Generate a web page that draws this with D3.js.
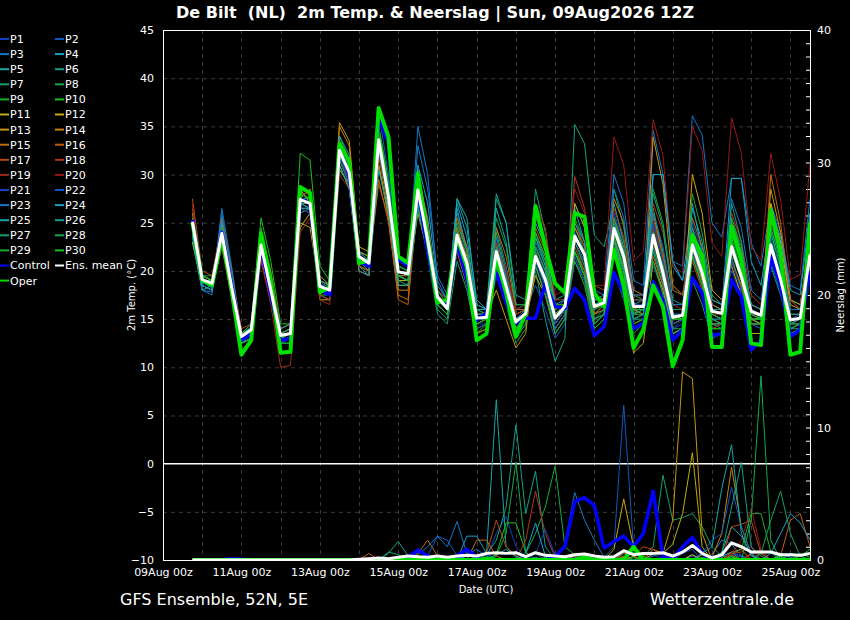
<!DOCTYPE html>
<html>
<head>
<meta charset="utf-8">
<script src="https://cdn.jsdelivr.net/npm/d3@7"></script>
<style>
  body { margin: 0; background: #000; }
  text { font-family: "DejaVu Sans", sans-serif; fill: #fff; }
</style>
</head>
<body>
<script>
// ---- data: 2m temperature (°C), 6-hourly from 09Aug 18z to 25Aug 12z ----
var tEnsMean = [25.1,19.1,18.7,23.9,18.3,13.2,13.9,22.7, 18.0,13.3,13.5,27.4,27.0,18.4,18.0,32.5, 30.2,21.5,20.8,33.6,27.7,19.9,19.7,28.4, 23.2,17.3,16.1,23.7,20.8,15.1,15.2,22.0, 18.4,14.7,15.6,21.5,19.1,15.1,16.3,23.6, 21.7,16.3,16.7,24.4,21.5,16.3,16.3,23.7, 19.8,15.2,15.4,22.7,19.8,15.8,15.6,22.5, 19.4,15.8,15.4,22.7,19.1,14.9,15.1,21.7];
var tControl = [25.3,19.0,18.5,24.0,18.5,12.8,13.5,22.5, 17.5,12.8,13.0,27.5,27.0,18.0,17.5,33.0, 30.0,21.0,20.5,35.8,33.3,21.2,20.5,28.5, 22.0,17.0,16.5,22.9,19.1,14.9,15.6,19.8, 16.7,14.6,15.1,15.1,18.7,16.3,16.1,18.2, 17.0,13.3,14.2,19.8,17.7,14.0,14.6,18.9, 17.0,12.8,13.9,19.3,17.7,13.3,13.5,19.1, 17.3,11.8,12.8,21.5,18.4,13.2,13.9,20.0];
var tOper = [25.0,19.0,18.5,23.5,18.0,11.3,12.8,23.9, 19.0,11.5,11.6,28.7,28.1,17.8,18.3,33.2, 31.3,20.8,21.1,36.9,33.9,21.5,20.8,30.1, 23.2,16.7,17.0,23.5,20.4,12.8,13.5,21.5, 17.7,13.2,15.6,26.7,22.5,18.7,17.7,26.0, 25.6,17.7,16.3,22.2,18.4,12.0,13.9,18.5, 16.3,10.1,12.8,23.7,21.5,12.1,12.1,24.6, 21.1,12.5,12.3,26.3,21.8,11.3,11.6,25.0];

var tP1 = [24.5,18.8,18.2,23.5,18.0,12.8,13.5,22.0, 17.5,12.8,13.0,27.0,26.5,18.0,17.5,32.0, 29.5,21.0,20.5,33.0,27.0,19.5,19.0,27.5, 22.5,16.5,15.5,23.0,20.0,14.5,14.5,21.0, 17.5,13.5,14.5,20.5,18.0,14.0,15.5,22.0, 20.0,15.0,15.5,22.5,20.0,15.0,15.5,22.0, 18.5,14.0,14.5,21.0,18.5,14.5,14.5,21.0, 18.0,14.5,14.0,21.0,18.0,13.5,14.0,20.0];
var tP2 = [25.5,19.5,19.0,24.5,19.0,13.5,14.0,23.0, 18.5,13.5,14.0,28.0,27.5,19.0,18.5,33.0, 31.0,22.0,21.0,34.5,28.5,20.5,20.0,29.0, 24.0,18.0,16.5,25.0,21.5,16.0,16.0,23.5, 19.5,15.5,16.0,18.5,16.0,13.0,14.5,21.0, 19.0,15.5,16.0,26.0,23.0,17.0,17.0,20.5, 18.0,14.0,15.0,24.5,21.0,16.5,16.0,20.0, 17.5,14.5,14.0,24.0,20.0,15.0,15.5,19.5];
var tP3 = [23.5,18.0,17.8,26.5,20.5,13.5,14.2,23.5, 18.5,13.0,13.5,27.0,26.5,19.0,18.0,33.5, 30.5,21.5,21.0,34.0,28.0,20.0,19.5,35.0, 30.0,19.0,17.0,26.0,22.5,16.5,16.0,24.5, 20.5,15.5,16.0,23.0,20.5,16.0,17.0,27.0, 24.5,18.0,17.5,30.0,27.0,19.0,18.5,34.6, 30.0,21.0,20.5,36.1,34.1,25.0,23.5,29.6, 29.6,22.9,20.5,27.0,24.0,18.5,18.0,27.5];
var tP4 = [24.0,18.5,18.0,25.0,19.5,12.5,13.0,21.5, 17.0,12.5,12.5,26.0,26.5,17.5,17.0,31.5, 29.0,20.5,19.5,33.5,26.5,18.5,18.5,29.5, 25.5,17.0,16.0,26.5,22.0,15.0,15.5,23.0, 18.0,14.0,15.5,24.0,21.0,16.0,16.5,26.5, 23.0,16.0,16.5,25.0,22.0,16.5,17.0,30.0, 30.0,20.5,19.0,27.0,22.0,16.5,16.0,29.6, 29.6,21.0,18.5,25.5,22.0,16.0,16.0,24.0];
var tP5 = [23.0,18.0,18.5,24.5,18.5,13.0,13.5,22.5, 18.0,13.5,14.0,27.5,27.5,18.5,17.5,32.0, 30.0,21.0,20.0,32.5,27.5,19.5,19.0,27.0, 23.0,17.5,16.5,27.5,25.5,16.5,16.0,26.5, 23.0,16.0,16.5,21.0,18.5,14.5,16.0,24.5, 22.0,17.0,17.5,23.0,20.0,15.5,16.5,25.0, 21.0,15.5,15.5,21.5,19.5,16.0,16.0,25.0, 22.0,16.5,16.0,26.0,23.0,17.0,16.5,23.0];
var tP6 = [24.5,19.0,18.5,23.0,18.0,13.0,14.0,23.0, 18.0,13.0,13.5,28.5,28.0,19.5,18.5,33.5, 31.5,22.0,21.5,35.0,29.0,20.5,20.0,28.0, 23.0,17.0,16.0,24.0,21.0,14.5,15.0,23.0, 19.0,14.0,15.0,20.0,15.0,10.6,13.0,35.2, 33.2,23.7,22.5,27.0,23.0,17.0,17.0,24.0, 19.5,14.5,15.0,22.0,18.5,14.5,14.0,21.5, 18.0,14.5,14.5,20.5,17.5,13.5,14.0,20.5];
var tP7 = [25.0,19.5,19.5,24.0,18.5,13.5,14.0,22.5, 18.5,13.5,14.0,27.0,27.0,18.0,18.0,32.5, 30.0,21.5,21.0,33.0,27.5,19.0,19.0,27.5, 22.0,16.0,15.0,23.0,19.5,13.5,14.0,27.5, 25.0,16.5,16.5,28.5,24.0,17.0,17.5,22.0, 19.5,14.0,15.0,20.0,17.0,13.5,14.5,26.5, 22.0,16.0,16.0,19.0,16.5,13.0,13.5,23.0, 19.5,15.5,15.0,21.0,18.0,14.0,14.0,22.0];
var tP8 = [25.5,19.0,18.8,24.0,18.0,13.0,13.8,23.5, 19.0,13.5,13.5,28.0,27.5,18.5,18.0,33.0, 30.5,21.5,20.5,34.0,28.0,20.0,19.5,29.0, 24.0,17.5,16.0,23.5,20.0,14.5,15.0,20.0, 16.5,12.5,14.0,23.5,21.0,15.5,16.5,22.5, 20.0,15.5,16.0,28.5,24.5,17.5,17.0,22.0, 18.5,13.5,14.0,28.0,24.0,17.5,16.5,24.0, 20.5,15.0,14.5,26.5,22.0,15.5,15.5,24.5];
var tP9 = [24.5,18.8,18.5,23.5,18.5,12.5,13.5,24.5, 19.5,13.0,13.0,26.5,26.5,17.5,17.5,32.0, 29.5,20.5,20.0,33.0,27.0,19.5,19.0,28.0, 23.0,17.0,16.5,25.5,22.0,16.0,15.5,21.5, 18.0,14.5,15.5,21.0,18.5,14.5,16.0,25.5, 23.0,17.0,17.0,23.5,20.5,15.0,15.5,28.5, 25.0,18.0,17.5,22.5,19.0,14.0,14.0,25.5, 22.5,16.0,15.5,23.5,20.0,14.5,14.5,26.0];
var tP10 = [25.0,19.5,19.0,24.5,19.0,13.5,14.5,25.5, 21.0,14.5,14.5,32.2,31.5,20.5,19.0,34.0, 31.5,22.0,21.5,35.0,29.5,20.5,20.0,27.0, 22.5,16.5,15.5,22.5,19.0,13.5,14.5,24.0, 20.0,15.0,15.5,26.0,22.5,16.5,16.5,21.0, 18.5,14.0,15.0,24.0,21.0,15.5,15.5,24.5, 20.0,15.0,15.0,23.5,20.5,16.0,15.5,22.5, 19.0,15.0,15.0,24.0,20.5,14.5,15.0,21.0];
var tP11 = [23.0,18.5,18.0,22.5,17.5,12.5,13.0,21.5, 17.0,13.0,13.5,25.0,24.5,18.0,17.5,30.5, 29.0,20.5,20.0,31.0,26.0,19.0,19.0,26.0, 22.0,17.0,16.5,24.5,21.0,15.5,15.5,22.0, 18.0,14.0,15.0,19.5,17.5,14.0,15.5,23.0, 21.0,15.5,16.5,23.5,20.0,11.5,12.5,21.0, 18.0,13.5,14.0,24.0,20.5,15.5,15.0,21.0, 18.5,15.0,14.5,22.0,19.0,14.0,14.5,21.5];
var tP12 = [24.0,19.0,18.5,24.0,18.5,13.0,13.5,22.0, 17.5,13.0,13.5,24.5,26.0,17.0,17.0,31.0, 28.5,20.0,19.5,32.0,26.5,18.5,18.5,30.5, 25.0,16.5,15.5,22.5,19.0,14.0,14.5,22.5, 19.0,15.0,15.5,22.0,19.0,14.5,16.0,27.0, 24.5,17.5,17.0,25.5,22.0,16.0,15.5,26.0, 21.5,15.5,15.0,30.0,26.0,18.0,17.0,20.5, 17.5,13.5,13.5,27.0,23.0,16.5,16.0,20.0];
var tP13 = [26.0,19.5,19.0,23.0,18.0,13.5,14.0,23.0, 18.5,13.5,14.0,28.5,27.0,19.0,18.5,35.4, 33.5,22.5,22.0,33.0,27.0,19.5,19.5,28.5, 23.5,17.5,16.0,24.0,21.5,15.5,15.5,18.0, 15.0,12.0,13.5,22.5,20.0,15.5,16.5,24.5, 22.5,16.5,17.0,22.0,19.0,14.5,15.0,33.9, 29.0,18.5,17.5,22.0,19.0,15.0,14.5,24.5, 21.0,16.0,15.5,28.5,24.0,17.0,16.5,23.0];
var tP14 = [25.0,19.0,18.5,25.5,20.0,13.5,14.0,22.5, 19.5,14.0,14.5,27.5,28.5,18.5,18.0,35.0, 33.0,22.0,21.5,31.0,25.5,18.0,18.0,26.5, 22.0,16.5,15.5,22.0,18.5,13.5,14.0,21.5, 18.5,14.5,15.0,20.5,17.5,13.5,15.0,21.5, 19.0,14.5,15.5,27.5,25.0,18.0,17.5,23.0, 19.5,15.0,15.5,21.5,18.5,14.5,14.5,23.0, 20.0,15.5,15.0,22.0,19.5,15.0,15.0,23.0];
var tP15 = [24.5,19.0,18.5,24.0,18.5,13.5,14.0,22.0, 18.0,13.5,13.5,27.0,27.0,19.5,18.5,33.0, 31.0,21.5,21.0,29.5,25.0,17.5,17.0,29.0, 25.0,18.0,17.0,24.5,21.0,15.0,15.0,24.5, 21.5,16.0,16.0,21.5,19.5,15.5,16.5,23.5, 21.5,16.5,16.5,23.0,20.5,16.0,16.5,21.5, 18.5,14.5,15.0,25.5,22.5,16.5,16.0,21.0, 18.5,14.5,14.5,30.0,25.0,17.0,16.0,22.0];
var tP16 = [25.5,19.5,19.0,24.5,19.0,13.0,13.5,22.5, 18.0,13.0,13.0,27.5,27.0,18.5,18.5,32.5, 30.5,21.0,20.5,29.0,25.5,17.0,16.5,27.5, 23.5,17.5,16.5,25.5,22.5,16.0,16.0,20.5, 17.5,14.5,15.5,24.5,22.0,16.0,16.5,22.0, 20.0,15.5,16.0,24.5,22.0,16.5,16.5,22.5, 19.0,14.5,15.0,23.0,20.0,15.5,15.0,22.0, 19.0,15.0,15.0,21.5,18.5,14.5,15.0,24.0];
var tP17 = [27.5,20.0,19.5,25.0,19.5,14.0,14.5,24.0, 20.0,14.0,14.5,28.0,28.0,19.0,18.5,33.5, 31.0,21.5,21.0,32.5,28.0,20.0,19.5,28.0, 23.5,17.0,16.0,23.0,20.5,15.0,15.0,22.5, 19.5,15.5,16.0,22.0,19.5,15.0,16.0,25.0, 22.5,16.5,17.0,26.5,23.5,17.5,17.5,25.5, 21.5,16.5,16.5,21.0,18.0,14.0,14.5,25.0, 22.0,16.5,16.0,21.5,18.5,14.5,14.5,21.0];
var tP18 = [26.5,19.5,19.0,23.5,18.5,13.5,14.0,21.5, 17.5,12.5,13.0,26.5,26.0,17.5,17.0,31.5, 29.5,20.5,20.0,32.5,27.5,20.0,19.5,27.5, 23.0,17.5,16.5,22.0,19.0,14.5,15.0,23.0, 20.0,15.5,16.0,27.0,24.5,17.0,17.0,29.8, 26.5,18.5,18.0,24.0,21.5,16.5,16.5,27.0, 24.0,18.0,17.5,24.5,21.5,17.0,16.5,26.0, 23.0,17.5,16.5,25.0,21.5,16.0,16.0,25.0];
var tP19 = [27.0,19.0,18.5,22.5,17.0,12.0,12.5,21.0, 16.5,10.0,10.2,24.0,25.5,17.0,16.5,30.0, 28.5,20.0,19.5,32.0,27.0,19.5,19.0,28.5, 24.0,17.5,16.0,23.0,20.5,15.5,15.5,21.5, 18.5,14.5,15.5,24.0,21.5,16.0,16.5,22.5, 20.5,16.0,16.5,25.5,22.5,17.0,17.0,24.5, 21.0,16.5,16.0,23.0,20.0,15.5,15.5,22.0, 19.5,15.5,15.5,22.5,19.5,15.5,15.5,22.5];
var tP20 = [25.0,19.0,18.5,24.0,18.5,13.0,13.5,22.5, 18.0,13.0,13.5,27.0,27.0,18.0,17.5,32.0, 30.0,21.0,20.5,33.5,28.0,20.0,19.5,28.0, 24.0,18.0,17.0,24.0,21.0,15.5,15.5,23.0, 20.0,16.0,16.5,25.5,23.0,17.5,18.0,28.5, 26.0,18.5,18.5,33.9,31.0,21.0,22.0,35.7, 32.0,20.5,19.8,35.0,32.5,22.9,21.5,35.9, 32.2,22.5,21.1,32.2,27.4,19.1,19.6,31.2];
var tP21 = [24.0,18.5,18.0,23.5,18.0,12.5,13.0,22.0, 17.5,12.5,13.0,26.5,26.0,18.0,17.5,32.0, 29.5,21.0,20.5,34.5,28.5,20.0,19.5,29.5, 24.5,17.0,16.0,22.5,19.5,14.0,14.5,20.5, 17.0,13.5,15.0,22.5,19.5,14.5,16.0,21.5, 19.0,14.5,15.5,26.0,22.5,16.5,16.5,25.0, 21.0,15.5,15.5,22.0,18.5,13.0,13.5,21.0, 18.0,12.5,12.5,23.5,20.0,14.5,14.5,19.0];
var tP22 = [25.0,19.0,18.8,24.5,18.5,13.5,14.0,23.0, 18.0,13.5,14.0,27.5,27.0,18.5,18.5,32.5, 30.0,21.5,21.0,36.5,30.0,21.0,20.5,29.0, 23.5,17.0,16.0,23.5,20.5,15.0,15.0,22.0, 18.5,14.5,15.5,21.0,18.5,14.0,15.5,23.0, 21.0,16.0,16.5,24.0,21.0,15.5,16.0,22.5, 19.0,14.5,15.0,25.0,22.0,17.0,16.5,24.0, 21.0,16.0,15.5,21.0,18.0,13.5,14.0,22.5];
var tP23 = [23.5,18.0,17.5,26.0,20.0,13.0,13.5,22.5, 17.5,13.0,13.5,27.5,27.0,18.5,18.0,31.5, 29.0,21.0,20.5,32.5,27.0,19.5,19.0,33.0, 28.5,19.5,17.5,24.0,20.5,15.5,15.5,23.5, 19.5,15.0,16.0,22.5,20.0,15.5,16.5,24.0, 21.5,16.5,17.0,28.5,25.5,17.5,17.5,26.0, 22.5,16.5,16.5,24.0,21.0,16.0,15.5,27.5, 24.5,18.0,17.0,24.5,21.0,16.0,16.0,22.0];
var tP24 = [24.0,18.5,18.0,25.0,19.0,12.5,13.5,23.0, 18.0,13.5,14.0,27.0,26.5,18.0,17.5,34.0, 32.0,22.0,21.0,33.0,27.5,20.0,19.5,31.0, 27.0,18.5,17.0,27.0,23.5,16.0,16.0,22.0, 19.0,14.5,15.0,25.0,22.5,16.5,17.0,25.0, 23.0,17.0,17.0,22.5,20.0,15.5,16.0,30.0, 30.0,21.0,19.0,23.5,20.0,15.0,15.0,24.0, 21.0,16.5,16.0,26.5,23.5,18.0,17.5,26.0];
var tP25 = [24.5,18.5,18.0,23.0,17.5,12.5,13.0,22.0, 17.0,13.0,13.5,26.5,26.5,18.0,17.5,31.0, 28.5,20.0,19.5,30.5,26.0,18.5,18.5,26.5, 22.5,16.5,15.5,27.5,24.5,17.0,16.0,28.0, 25.0,17.5,17.0,23.5,20.5,15.0,16.0,22.0, 19.5,15.0,15.5,25.0,22.0,16.0,16.0,23.5, 20.5,15.5,15.0,26.5,23.0,17.0,16.5,23.0, 20.0,15.0,15.0,22.5,19.5,14.5,15.0,24.0];
var tP26 = [24.0,19.0,18.5,24.0,18.5,13.0,13.5,23.5, 19.0,14.0,14.5,28.5,28.0,19.0,18.5,33.0, 30.5,21.5,21.0,33.5,27.5,19.5,19.0,27.0, 22.5,16.5,15.5,24.0,21.0,15.5,15.5,22.0, 19.0,15.0,15.5,21.5,19.0,15.0,16.5,23.5, 21.5,16.5,17.0,23.0,20.0,15.0,15.5,28.0, 24.5,17.0,16.5,23.5,20.0,14.5,14.5,27.0, 23.0,16.0,15.0,24.5,21.0,15.5,15.5,23.5];
var tP27 = [25.5,19.5,19.0,24.0,18.5,13.5,14.0,22.0, 17.5,13.0,13.0,27.5,27.5,19.0,18.5,32.5, 30.0,21.0,20.5,33.0,27.0,19.0,18.5,26.5, 21.5,15.5,14.5,21.0,18.0,13.0,13.5,22.5, 19.0,14.0,15.0,22.0,19.0,13.5,15.0,23.0, 20.5,15.0,15.5,24.0,21.0,15.0,15.0,22.5, 19.0,14.0,14.0,24.5,21.0,15.5,15.0,25.5, 22.0,15.5,15.0,23.0,19.5,14.0,14.5,25.0];
var tP28 = [25.0,19.0,18.5,24.5,19.0,13.0,13.5,22.0, 17.5,13.0,13.5,27.0,27.0,18.0,17.5,32.0, 30.0,21.5,21.0,34.0,28.5,20.5,20.0,29.5, 24.5,18.0,16.5,25.0,22.0,16.0,15.5,25.5, 22.5,16.5,16.5,20.5,17.5,13.5,15.0,22.0, 19.5,15.0,16.0,23.5,20.5,15.5,16.0,21.0, 17.5,13.5,14.0,22.5,19.5,15.0,14.5,22.0, 19.0,14.5,14.5,22.5,19.5,14.0,14.5,20.5];
var tP29 = [25.0,19.0,19.0,24.0,18.5,13.5,14.0,23.0, 18.5,13.5,14.0,27.5,27.0,18.0,18.0,32.5, 30.5,21.5,21.0,34.5,28.5,20.0,19.5,28.0, 23.0,17.0,16.0,23.5,20.5,15.0,15.0,21.5, 18.0,14.0,15.0,22.5,20.0,15.5,16.5,23.5, 21.5,16.0,16.5,25.5,22.5,16.0,16.0,23.5, 20.0,15.0,15.0,22.5,19.5,15.5,15.0,23.5, 20.0,15.5,15.0,22.0,19.0,14.5,14.5,22.0];
var tP30 = [25.5,19.5,19.0,24.0,18.0,12.5,13.0,23.5, 19.0,12.5,12.5,28.0,27.5,18.5,17.5,33.0, 30.5,21.0,20.5,35.0,28.5,19.5,19.0,27.5, 22.5,16.5,15.5,23.0,20.0,14.5,15.0,20.5, 17.0,13.0,14.5,24.0,21.5,16.0,16.5,22.0, 19.5,14.5,15.5,22.5,19.5,14.5,15.0,24.0, 20.5,15.0,15.0,21.5,18.5,14.0,14.0,22.5, 19.5,15.0,15.0,21.0,18.0,13.5,14.0,22.0];

// ---- data: precipitation (mm / 6h) ----
var rEnsMean = [0,0,0,0,0,0,0,0, 0,0,0,0,0,0,0,0, 0,0.05,0.1,0.15,0.1,0.2,0.3,0.25, 0.2,0.3,0.2,0.3,0.35,0.3,0.5,0.55, 0.5,0.55,0.25,0.55,0.35,0.3,0.25,0.4, 0.45,0.3,0.2,0.25,0.7,0.4,0.5,0.5, 0.55,0.3,0.6,1.1,0.5,0.15,0.4,1.3, 1.0,0.6,0.6,0.6,0.4,0.4,0.35,0.5];
var rControl = [0,0,0,0,0.1,0.05,0,0, 0,0,0,0,0,0,0,0, 0,0,0,0,0,0,0.2,0.75, 0.3,0,0,0.3,0.8,0.2,0,0, 0,0,0,0,0,0.3,1.0,4.4, 4.7,4.1,0.9,1.4,1.8,1.0,2.0,5.2, 0.25,0.1,1.0,1.7,0.5,0,0,0, 0,0,0,0,0,0,0,0];
var rOper = [0,0,0,0,0,0,0,0, 0,0,0,0,0,0,0,0, 0,0,0,0,0,0,0,0, 0,0,0,0,0,0,0.1,0, 0,0,0,0,0,0,0,0, 0.2,0,0,0,0,1.0,0,0, 0,0,0,0,0,0,0,0, 0,0,0,0,0,0,0,0];

var rP1 = [0,0,0,0,0,0,0,0, 0,0,0,0,0,0,0,0, 0,0,0,0,0,0,0,0, 0,0,0,0,0,0,0.2,2.0, 3.3,1.0,0.2,0,0,0,0.1,0.3, 0.2,0,0,0,0.3,0,0,0.4, 0.1,0,0,0.3,0,0,0,0.5, 0.2,0,0,0,0,0,0.1,0];
var rP2 = [0,0,0,0,0,0,0,0, 0,0,0,0,0,0,0,0, 0,0,0,0,0,0,0,0, 0,0,0,0.3,0,0,0,0, 0,0,0.3,0.5,0,0,0,0.2, 0,0,0.2,1.0,11.7,1.0,0.2,0, 0,0,0.5,0.8,0,0,0.2,0.6, 0.3,0,0,0,0.4,0.2,0,0];
var rP3 = [0,0,0,0,0,0,0,0, 0,0,0,0,0,0,0,0, 0,0,0,0,0,0,0,0, 0,0,0,0,0.4,0.8,0.3,0, 0,0,0,0,0,0.2,1.2,5.1, 3.0,1.5,0.2,0,0,0,0,0.3, 0.5,0,0,0,0,0.4,1.5,1.2, 0.3,0,0,0,0.5,0.2,0,0];
var rP4 = [0,0,0,0,0,0,0,0, 0,0,0,0,0,0,0,0, 0,0,0,0,0,0,0,0, 0,0,0,0,1.8,1.8,0.5,0, 0,0,0,0.2,0,0,0,0, 0,0,0,0,0.5,0,0,0, 0,0.2,0,0,0,0,0.3,0.6, 0,0,0,0,0.2,0,0,0];
var rP5 = [0,0,0,0,0,0,0,0, 0,0,0,0,0,0,0,0, 0,0,0,0,0,0,0,0, 0,0,0,0,0.3,0.2,0.5,12.1, 1.0,0.2,0,0,0,0,0,0, 0,0,0,0,0.2,0,0,0, 0,0,0,0.4,0,0,0.6,2.5, 1.8,0.4,0,0,0,0,0,0];
var rP6 = [0,0,0,0,0,0,0,0, 0,0,0,0,0,0,0,0, 0,0,0,0,0.6,0.4,0,0, 0,0,0,0,0,0,0.4,1.5, 4.0,10.2,3.5,6.7,1.0,0,0,0, 0,0,0,0,0,0,0.3,0, 0,0,0,0,0,0,0,0, 0,0,0,0,0,0.5,0.3,0];
var rP7 = [0,0,0,0,0,0,0,0, 0,0,0,0,0,0,0,0, 0,0,0,0,0,0,0,0, 0,0,0,0,0,0,0,0, 0,0,0,0,0.2,0,0,0, 0,0,0,0,0.6,0.8,0.3,1.0, 6.4,3.0,3.2,3.5,2.5,1.0,0.3,0.2, 0,0,0,0,0,0,0,0];
var rP8 = [0,0,0,0,0,0,0,0, 0,0,0,0,0,0,0,0, 0,0,0,0,0,0,0,0, 0,0,0,0,0,0,0,0.3, 2.0,7.4,0.5,2.0,4.0,7.1,1.0,0.4, 0.2,0,0,0,0,0,0,0, 0,0,0,0,0,0.2,0,0, 0,0,0,0,0,0,0,0];
var rP9 = [0,0,0,0,0,0,0,0, 0,0,0,0,0,0,0,0, 0,0,0,0,0,0,0,0, 0,0,0,0,0,0,0,0, 0,0,0,0,0,0,0,0, 0,0,0.3,0,0,0,0,0, 0,0,0,0,0,0,0,0.5, 0.8,3.5,3.5,0.6,0,0,0,0];
var rP10 = [0,0,0,0,0,0,0,0, 0,0,0,0,0,0,0,0, 0,0,0,0,0,0,0,0, 0,0,0,0,0,0,0,0.4, 2.8,2.8,0.6,0,0,0,0,0, 0,0,0,0,0.2,0.6,0,0, 0,0,0,0,0,0,0,0, 0,0,0,0,0,0,0.3,0.8];
var rP11 = [0,0,0,0,0,0,0,0, 0,0,0,0,0,0,0,0, 0,0,0,0,0,0,0,0, 0,0,0,0,0,0,0,0, 0,0,0,0,0,0,0,0, 0,0,0,0,0,0,0,0.5, 0.5,1.2,3.5,8.1,1.0,0,0,0, 0,0,0,0,0,0,0,0];
var rP12 = [0,0,0,0,0,0,0,0, 0,0,0,0,0,0,0,0, 0,0,0,0,0,0,0,0, 0,0,0,0,0,0,0,0, 0,0,0,0,0,0,0,0, 0,0,0,0.8,4.6,1.0,0,0, 0,0,0,0.4,0,0,0,0.3, 0,0,0.5,0,0,0,0,0];
var rP13 = [0,0,0,0,0,0,0,0, 0,0,0,0,0,0,0,0, 0,0,0,0,0,0,0,0, 0,0,0,0,0,0,0,0, 0,0,0,0,0,0,0,0, 0,0,0,0,0,0.3,0,0.8, 0.5,3.0,14.2,13.7,2.0,0,0,0, 0,0,0,0,0,0,0,0];
var rP14 = [0,0,0,0,0,0,0,0, 0,0,0,0,0,0,0,0, 0,0,0,0,0,0,0,0, 0,0,0,0,0,0,0,0, 0,0,0,0,0,0,0,0.3, 0,0,0,0,0,0,0,0, 0,0,0,0,0.4,0.2,2.0,7.0, 2.5,0.5,0,0,0,0,0,0];
var rP15 = [0,0,0,0,0,0,0,0, 0,0,0,0,0,0,0,0, 0,0,0,0,0,0,0,0.5, 1.5,0.3,0,0,0,1.5,1.5,0.3, 0,0,0,0,0,0,0,0, 0,0,0,0,0.3,0,0,0, 0,0,0,0,0,0,0,0.6, 0.8,0,0,0,0,0,0,0];
var rP16 = [0,0,0,0,0,0,0,0, 0,0,0,0,0,0,0,0, 0,0,0.5,0,0,0,0,0, 0,0,0,0,0,0,0,0, 0,0,0,0,0,0,0,0, 0,0,0,0,0,0,0,0, 0,0,0,0,0,0,0,0.4, 0,0.5,0,0,0.3,3.0,3.5,1.0];
var rP17 = [0,0,0,0,0,0,0,0, 0,0,0,0,0,0,0,0, 0,0,0,0,0,0,0,0, 0,0,0,0,0,0,0.5,3.0, 1.0,0.3,0,0,0,0,0,0, 0,0,0,0,0.5,0.4,1.0,0.8, 0.3,0,0,0,0,0,0,2.5, 2.7,3.0,0.5,0,0,0,0,0];
var rP18 = [0,0,0,0,0,0,0,0, 0,0,0,0,0,0,0,0, 0,0,0,0,0,0,0,0, 0,0,0,0,0,0,0,0, 0,0,1.5,5.2,2.0,0.2,0,0, 0,0,0,0,0,0,0,0, 0,0,0,0,0,0,0,0.5, 0.6,1.0,0,0,0,0,0,0];
var rP19 = [0,0,0,0,0,0,0,0, 0,0,0,0,0,0,0,0, 0,0,0,0,0,0,0,0, 0,0,0,0,0,0,0,0, 0,0,0,0,0,0,0,0, 0,0,0,0,0,0,0.4,0, 0,0,0,0,0,0,0,0, 0,0.4,0.8,0,0,0,0,0];
var rP20 = [0,0,0,0,0,0,0,0, 0,0,0,0,0,0,0,0, 0,0,0,0,0,0,0,0, 0,0,0,0,0,0,0,0, 0,0,0,0,0,0,0,0, 0,0,0,0,0,0,0,0, 0,0,0,0,0,0,0,0.5, 1.5,3.9,0.8,0,0,0,0,0];
var rP21 = [0,0,0,0,0,0,0,0, 0,0,0,0,0,0,0,0, 0,0,0,0,0,0,0,0, 0,0,0,0,0,0,0,0, 0,0,0,0.5,2.3,0.4,0,0, 0,0,0,0,0,0,0,0, 0,0,0,0,0,0.3,0,0, 0,0,0,0,0,0,0,0];
var rP22 = [0,0,0,0,0,0,0,0, 0,0,0,0,0,0,0,0, 0,0,0,0,0,0,0,0, 0.3,1.8,1.5,0.3,0,0,0,0, 0,0,0,0,0,0,0,0, 0,0,0,0,0,0,0,0, 0,0,0,0,0.5,1.5,2.0,5.5, 2.5,0.5,0,0,0,0,0,0];
var rP23 = [0,0,0,0,0,0,0,0, 0,0,0,0,0,0,0,0, 0,0,0,0,0,0,0,0.4, 1.0,1.8,1.0,2.9,0.5,0,0,0, 0,0,0,0,0,0,0,0, 0,0,0,0,0,0,0,0, 0,0,0,0,0,0,0,0, 0,0,0,0,0,0,0,0];
var rP24 = [0,0,0,0,0,0,0,0, 0,0,0,0,0,0,0,0, 0,0,0,0,0,0,0,0, 0,0,0,0,0,0,0,0, 0,0,0.5,2.8,0.3,0,0,0, 0,0,0,0,0,0,0,0, 0,0,0,0,0,0,0,0, 0,0,0,0.5,2.0,3.5,2.8,1.5];
var rP25 = [0,0,0,0,0,0,0,0, 0,0,0,0,0,0,0,0, 0,0,0,0,0,0,0,0, 0,0,0,0,0,0,0,0.4, 0.8,0.3,0,0,0,0,0,0, 0,0,0,0,0,0,0,0, 0,0,0,0,0.5,1.0,5.4,8.7, 2.0,0.3,0,0,0,0,0,0];
var rP26 = [0,0,0,0,0,0,0,0, 0,0,0,0,0,0,0,0, 0,0,0,0,0.5,1.4,0.3,0, 0,0,0,0,0,0,0,0, 0,0,0,0,0,0,0,0, 0,0,0,0,0,0,0,0, 0,0,0,0,0,0,0.5,4.0, 7.4,1.0,0.3,0,0,0,0,0];
var rP27 = [0,0,0,0,0,0,0,0, 0,0,0,0,0,0,0,0, 0,0,0,0,0,0,0,0, 0,0,0,0,0,0,0,0, 0,0,0,0,0,0,0,0, 0,0,0,0,0,0,0,0, 0,0,0,0,0,0,0,0, 0,0,0.5,3.0,5.2,2.0,0.3,0];
var rP28 = [0,0,0,0,0,0,0,0, 0,0,0,0,0,0,0,0, 0,0,0,0,0,0,0,0, 0,0,0,0,0,0,0,0, 0,0,0,0,0,0,0,0, 0,0,0,0,0,0,0,0, 0,0,0,0,0,0,0,0.3, 0,3.0,13.9,1.5,0,0,0,0];
var rP29 = [0,0,0,0,0,0,0,0, 0,0,0,0,0,0,0,0, 0,0,0,0,0,0,0,0, 0,0,0,0,0,0,0,0, 0,0,0,0,0,0,0,0, 0,0,0,0,0,0,0.3,0, 0,0,0,0,0.2,0,0,0, 0,0,0,0,0,0,0.5,0.2];
var rP30 = [0,0,0,0,0,0,0,0, 0,0,0,0,0,0,0,0, 0,0,0,0,0,0,0,0, 0,0,0,0,0,0,0,0, 0,0,0,0,0,0,0,0, 0,0,0,0,0,0.2,0,0, 0,0,0,0,0,0,0,0, 0,0,0,0,0.3,0,0,0];

var memberNames = ["P1","P2","P3","P4","P5","P6","P7","P8","P9","P10",
  "P11","P12","P13","P14","P15","P16","P17","P18","P19","P20",
  "P21","P22","P23","P24","P25","P26","P27","P28","P29","P30"];
var memberColors = ["#1040c0","#1058c0","#1478c4","#18a0c8","#14a8a8","#14a088","#14a068","#14a848","#18b028","#18c018",
  "#b8b010","#c8a810","#c89410","#c88010","#c06c10","#c05c10","#b84810","#b03818","#a02818","#981818"];
var tempTicks = [-10,-5,0,5,10,15,20,25,30,35,40,45];
var precTicks = [0,10,20,30,40];

var tempMembers = [tP1,tP2,tP3,tP4,tP5,tP6,tP7,tP8,tP9,tP10,tP11,tP12,tP13,tP14,tP15,
  tP16,tP17,tP18,tP19,tP20,tP21,tP22,tP23,tP24,tP25,tP26,tP27,tP28,tP29,tP30];
var precMembers = [rP1,rP2,rP3,rP4,rP5,rP6,rP7,rP8,rP9,rP10,rP11,rP12,rP13,rP14,rP15,
  rP16,rP17,rP18,rP19,rP20,rP21,rP22,rP23,rP24,rP25,rP26,rP27,rP28,rP29,rP30];

// ---- layout ----
var width = 850;
var height = 620;
var margin = {top: 30, left: 163, right: 40, bottom: 60};
var innerRight = width - margin.right;
var innerBottom = height - margin.bottom;

var svg = d3.select("body")
  .append("svg")
  .attr("width", width)
  .attr("height", height)
  .style("background", "#000");

var times = d3.utcHour.every(6).range(new Date(Date.UTC(2026,7,9,18)), new Date(Date.UTC(2026,7,25,13)));

var xScale = d3.scaleUtc()
  .domain([new Date(Date.UTC(2026,7,9,0)), new Date(Date.UTC(2026,7,25,12))])
  .range([margin.left, innerRight]);

var yTemp = d3.scaleLinear()
  .domain([-10, 45])
  .range([innerBottom, margin.top]);

var yPrec = d3.scaleLinear()
  .domain([0, 40])
  .range([innerBottom, margin.top]);

svg.append("clipPath").attr("id", "plotclip")
  .append("rect")
  .attr("x", margin.left).attr("y", margin.top)
  .attr("width", innerRight - margin.left).attr("height", innerBottom - margin.top);

// grid
var grid = svg.append("g");
grid.selectAll("line.h")
  .data(tempTicks.filter(function(d) { return d > -10 && d < 45 && d !== 0; }))
  .enter().append("line")
    .attr("x1", margin.left).attr("x2", innerRight)
    .attr("y1", function(d) { return yTemp(d) + 0.5; })
    .attr("y2", function(d) { return yTemp(d) + 0.5; })
    .attr("stroke", "#3a3a3a").attr("stroke-dasharray", "4,4");
grid.selectAll("line.v")
  .data(d3.utcDay.range(new Date(Date.UTC(2026,7,10)), new Date(Date.UTC(2026,7,25,1))))
  .enter().append("line")
    .attr("x1", function(d) { return Math.round(xScale(d)) + 0.5; })
    .attr("x2", function(d) { return Math.round(xScale(d)) + 0.5; })
    .attr("y1", margin.top).attr("y2", innerBottom)
    .attr("stroke", "#3a3a3a").attr("stroke-dasharray", "4,4");

// zero line
svg.append("line")
  .attr("x1", margin.left).attr("x2", innerRight)
  .attr("y1", yTemp(0)).attr("y2", yTemp(0))
  .attr("stroke", "#fff").attr("stroke-width", 1.5);

// axes
var tempAxis = svg.append("g")
  .attr("transform", "translate(" + margin.left + ",0)")
  .call(d3.axisLeft(yTemp).tickValues(tempTicks).tickSize(0).tickPadding(9));
var precAxis = svg.append("g")
  .attr("transform", "translate(" + innerRight + ",0)")
  .call(d3.axisRight(yPrec).tickValues(precTicks).tickSize(0).tickPadding(7));
var precMinor = svg.append("g")
  .attr("transform", "translate(" + innerRight + ",0)")
  .call(d3.axisLeft(yPrec).ticks(40).tickSize(4).tickFormat(""));
var dateAxis = svg.append("g")
  .attr("transform", "translate(0," + innerBottom + ")")
  .call(d3.axisBottom(xScale).ticks(d3.utcDay.every(2)).tickFormat(d3.utcFormat("%d%b %Hz")).tickSize(0).tickPadding(8));

svg.selectAll(".domain").remove();
svg.selectAll(".tick text").attr("fill", "#fff").style("font-size", "11px").style("font-family", "DejaVu Sans");
precMinor.selectAll(".tick line").attr("stroke", "#fff");

// series
var tempLine = d3.line()
  .x(function(d, i) { return xScale(times[i]); })
  .y(function(d) { return yTemp(d); });
var precLine = d3.line()
  .x(function(d, i) { return xScale(times[i]); })
  .y(function(d) { return yPrec(d); });

var lines = svg.append("g").attr("clip-path", "url(#plotclip)");

function drawSet(lineFn, members, ctrl, oper, mean) {
  lines.append("g").selectAll("path")
    .data(members)
    .enter().append("path")
      .attr("d", lineFn)
      .attr("fill", "none")
      .attr("stroke", function(d, i) { return memberColors[i % 20]; })
      .attr("stroke-width", 1);
  lines.append("path").attr("d", lineFn(ctrl)).attr("fill", "none")
    .attr("stroke", "#0000ff").attr("stroke-width", 3.5).attr("stroke-linejoin", "round");
  lines.append("path").attr("d", lineFn(oper)).attr("fill", "none")
    .attr("stroke", "#00e000").attr("stroke-width", 4).attr("stroke-linejoin", "round");
  lines.append("path").attr("d", lineFn(mean)).attr("fill", "none")
    .attr("stroke", "#ffffff").attr("stroke-width", 3).attr("stroke-linejoin", "round");
}
drawSet(tempLine, tempMembers, tControl, tOper, tEnsMean);
drawSet(precLine, precMembers, rControl, rOper, rEnsMean);

// frame
svg.append("rect")
  .attr("x", margin.left + 0.5).attr("y", margin.top + 0.5)
  .attr("width", innerRight - margin.left).attr("height", innerBottom - margin.top)
  .attr("fill", "none").attr("stroke", "#fff").attr("stroke-width", 1);

// titles
svg.append("text")
  .attr("x", 435).attr("y", 18)
  .attr("text-anchor", "middle")
  .style("font-size", "16px").style("font-weight", "bold")
  .style("white-space", "pre")
  .text("De Bilt  (NL)  2m Temp. & Neerslag | Sun, 09Aug2026 12Z");

svg.append("text")
  .attr("transform", "translate(135,295) rotate(-90)")
  .attr("text-anchor", "middle")
  .style("font-size", "10px")
  .text("2m Temp. (°C)");

svg.append("text")
  .attr("transform", "translate(844,295) rotate(-90)")
  .attr("text-anchor", "middle")
  .style("font-size", "10px")
  .text("Neerslag (mm)");

svg.append("text")
  .attr("x", 486).attr("y", 593)
  .attr("text-anchor", "middle")
  .style("font-size", "10px")
  .text("Date (UTC)");

svg.append("text")
  .attr("x", 120).attr("y", 605)
  .style("font-size", "16px")
  .text("GFS Ensemble, 52N, 5E");

svg.append("text")
  .attr("x", 794).attr("y", 605)
  .attr("text-anchor", "end")
  .style("font-size", "16px")
  .text("Wetterzentrale.de");

// legend
var legendItems = memberNames.map(function(n, i) { return {name: n, color: memberColors[i % 20]}; })
  .concat([{name: "Control", color: "#0000ff"}, {name: "Ens. mean", color: "#ffffff"}, {name: "Oper", color: "#00e000"}]);

var legend = svg.append("g");
var item = legend.selectAll("g")
  .data(legendItems)
  .enter().append("g")
    .attr("transform", function(d, i) {
      var col = i % 2, row = Math.floor(i / 2);
      return "translate(" + (col * 55) + "," + (39 + row * 15.1) + ")";
    });
item.append("line")
  .attr("x1", 0).attr("x2", 9)
  .attr("stroke", function(d) { return d.color; })
  .attr("stroke-width", 2);
item.append("text")
  .attr("x", 10).attr("dy", "0.36em")
  .style("font-size", "11px")
  .text(function(d) { return d.name; });
</script>
</body>
</html>
